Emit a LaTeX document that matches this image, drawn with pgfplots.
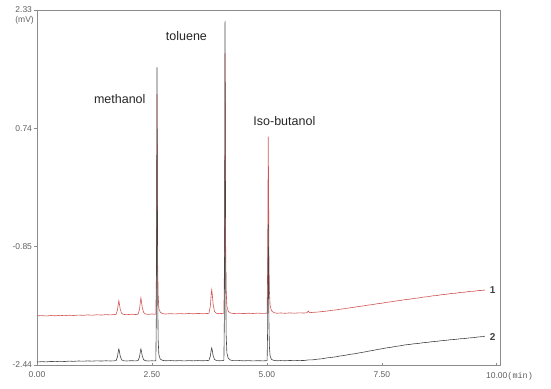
\documentclass[border=0pt]{standalone}
\usepackage{pgfplots}
\pgfplotsset{compat=1.18}
\usepackage{fontspec}
\setmainfont{Liberation Sans}
\newfontfamily\monofont{Liberation Mono}
\definecolor{trB}{HTML}{454545}
\definecolor{trR}{HTML}{D25555}
\definecolor{frame}{HTML}{8C8C8C}
\definecolor{lbl}{HTML}{606060}
\begin{document}
\begin{tikzpicture}
\begin{axis}[
  name=ax,
  scale only axis, width=463pt, height=355pt,
  xmin=0, xmax=10.07, ymin=-2.44, ymax=2.33,
  axis line style={frame, line width=0.8pt},
  xtick={0,2.5,5,7.5,10},
  xticklabels={0.00,2.50,5.00,7.50,{10.00\rlap{\monofont\fontsize{8.5}{10}\selectfont (min)}}},
  ytick={-2.44,-0.85,0.74,2.33},
  yticklabels={-2.44,-0.85,0.74,2.33},
  tick align=outside, major tick length=2.5pt,
  xtick pos=bottom, ytick pos=left,
  major x tick style={yshift=2.5pt},
  tick style={frame, line width=0.6pt},
  ticklabel style={font=\fontsize{8.5}{10}\selectfont, text=lbl},
  xticklabel style={yshift=-1pt},
  yticklabel style={xshift=1pt},
  clip=false,
]
\addplot[trR, line width=0.6pt] coordinates {
(0.00,-1.780) (0.10,-1.776) (0.20,-1.781) (0.30,-1.775) (0.40,-1.779) (0.50,-1.773) (0.60,-1.777) (0.70,-1.771) (0.80,-1.775) (0.90,-1.769) (1.00,-1.773) (1.10,-1.767) (1.20,-1.771) (1.30,-1.765) (1.40,-1.769) (1.50,-1.763) (1.60,-1.767) (1.68,-1.762)
(1.72,-1.760) (1.75,-1.700) (1.77,-1.610) (1.78,-1.577) (1.79,-1.610) (1.81,-1.690) (1.84,-1.745) (1.88,-1.760) (1.95,-1.764) (2.05,-1.758) (2.15,-1.762)
(2.20,-1.757) (2.23,-1.690) (2.25,-1.580) (2.26,-1.537) (2.27,-1.580) (2.29,-1.670) (2.32,-1.735) (2.36,-1.755) (2.42,-1.760) (2.50,-1.754) (2.56,-1.758)
(2.585,-1.755) (2.595,-1.30) (2.603,-0.20) (2.61,1.20) (2.617,0.10) (2.625,-1.10) (2.635,-1.50) (2.65,-1.68) (2.68,-1.73) (2.73,-1.750) (2.80,-1.755)
(2.90,-1.750) (3.00,-1.754) (3.10,-1.749) (3.20,-1.753) (3.30,-1.748) (3.40,-1.752) (3.50,-1.747) (3.60,-1.751) (3.70,-1.748)
(3.74,-1.746) (3.77,-1.650) (3.79,-1.480) (3.80,-1.430) (3.81,-1.480) (3.83,-1.620) (3.86,-1.720) (3.90,-1.745) (3.96,-1.750) (4.03,-1.747)
(4.065,-1.745) (4.075,-1.20) (4.083,0.00) (4.09,1.75) (4.097,0.30) (4.105,-1.00) (4.115,-1.45) (4.13,-1.65) (4.16,-1.72) (4.21,-1.742) (4.28,-1.748)
(4.40,-1.745) (4.50,-1.749) (4.60,-1.744) (4.70,-1.748) (4.80,-1.743) (4.90,-1.747) (4.98,-1.745)
(5.005,-1.743) (5.015,-1.20) (5.023,-0.20) (5.03,0.63) (5.037,-0.10) (5.045,-1.00) (5.055,-1.45) (5.07,-1.64) (5.10,-1.71) (5.15,-1.735) (5.22,-1.745)
(5.30,-1.741) (5.40,-1.745) (5.50,-1.740) (5.60,-1.744) (5.70,-1.739) (5.80,-1.742) (5.87,-1.738) (5.90,-1.715) (5.93,-1.737) (6.00,-1.733) (6.10,-1.729) (6.20,-1.722) (6.30,-1.716) (6.40,-1.706) (6.50,-1.700) (6.60,-1.690) (6.70,-1.682) (6.80,-1.672) (6.90,-1.664) (7.00,-1.653) (7.10,-1.646) (7.20,-1.635) (7.30,-1.628) (7.40,-1.617) (7.50,-1.610) (7.60,-1.598) (7.70,-1.591) (7.80,-1.580) (7.90,-1.573) (8.00,-1.562) (8.10,-1.556) (8.20,-1.545) (8.30,-1.539) (8.40,-1.528) (8.50,-1.522) (8.60,-1.511) (8.70,-1.506) (8.80,-1.495) (8.90,-1.490) (9.00,-1.480) (9.10,-1.476) (9.20,-1.466) (9.30,-1.462) (9.40,-1.452) (9.50,-1.449) (9.60,-1.440) (9.70,-1.437) (9.74,-1.432)
};
\addplot[trB, line width=0.6pt] coordinates {
(0.00,-2.400) (0.10,-2.395) (0.20,-2.398) (0.30,-2.392) (0.40,-2.395) (0.50,-2.390) (0.60,-2.393) (0.70,-2.388) (0.80,-2.391) (0.90,-2.386) (1.00,-2.389) (1.10,-2.385) (1.20,-2.388) (1.30,-2.384) (1.40,-2.387) (1.50,-2.383) (1.60,-2.386) (1.68,-2.384)
(1.72,-2.380) (1.75,-2.330) (1.77,-2.250) (1.78,-2.225) (1.79,-2.250) (1.81,-2.320) (1.84,-2.370) (1.88,-2.383) (1.95,-2.386) (2.05,-2.382) (2.15,-2.385)
(2.20,-2.380) (2.23,-2.330) (2.25,-2.250) (2.26,-2.225) (2.27,-2.250) (2.29,-2.320) (2.32,-2.370) (2.36,-2.382) (2.42,-2.386) (2.50,-2.383) (2.56,-2.385)
(2.585,-2.380) (2.595,-1.80) (2.603,-0.30) (2.61,1.56) (2.617,0.20) (2.625,-1.50) (2.635,-2.10) (2.65,-2.30) (2.68,-2.36) (2.73,-2.378) (2.80,-2.383)
(2.90,-2.380) (3.00,-2.384) (3.10,-2.381) (3.20,-2.385) (3.30,-2.381) (3.40,-2.384) (3.50,-2.380) (3.60,-2.383) (3.70,-2.380)
(3.74,-2.378) (3.77,-2.320) (3.79,-2.235) (3.80,-2.210) (3.81,-2.235) (3.83,-2.310) (3.86,-2.365) (3.90,-2.380) (3.96,-2.383) (4.03,-2.381)
(4.065,-2.378) (4.075,-1.80) (4.083,-0.20) (4.09,2.18) (4.097,0.40) (4.105,-1.40) (4.115,-2.05) (4.13,-2.28) (4.16,-2.35) (4.21,-2.375) (4.28,-2.382)
(4.40,-2.380) (4.50,-2.384) (4.60,-2.381) (4.70,-2.385) (4.80,-2.382) (4.90,-2.384) (4.98,-2.383)
(5.005,-2.380) (5.015,-2.00) (5.023,-1.20) (5.03,-0.55) (5.037,-1.10) (5.045,-1.90) (5.055,-2.20) (5.07,-2.32) (5.10,-2.365) (5.15,-2.378) (5.22,-2.383)
(5.30,-2.380) (5.40,-2.383) (5.50,-2.379) (5.60,-2.382) (5.70,-2.378) (5.80,-2.380) (5.90,-2.372) (6.00,-2.370) (6.10,-2.362) (6.20,-2.356) (6.30,-2.345) (6.40,-2.338) (6.50,-2.330) (6.60,-2.318) (6.70,-2.310) (6.80,-2.297) (6.90,-2.290) (7.00,-2.278) (7.10,-2.268) (7.20,-2.255) (7.30,-2.245) (7.40,-2.232) (7.50,-2.222) (7.60,-2.210) (7.70,-2.202) (7.80,-2.190) (7.90,-2.182) (8.00,-2.170) (8.10,-2.164) (8.20,-2.155) (8.30,-2.150) (8.40,-2.140) (8.50,-2.135) (8.60,-2.126) (8.70,-2.122) (8.80,-2.113) (8.90,-2.108) (9.00,-2.100) (9.10,-2.096) (9.20,-2.088) (9.30,-2.084) (9.40,-2.076) (9.50,-2.072) (9.60,-2.063) (9.70,-2.058) (9.74,-2.052)
};
\node[font=\fontsize{12.5}{14}\selectfont, text=black!85] at (axis cs:1.80,1.13) {methanol};
\node[font=\fontsize{12.5}{14}\selectfont, text=black!85] at (axis cs:3.25,1.98) {toluene};
\node[font=\fontsize{12.5}{14}\selectfont, text=black!85] at (axis cs:5.38,0.835) {Iso-butanol};
\node[font=\bfseries\fontsize{10}{12}\selectfont, text=black!75] at (axis cs:9.91,-1.43) {1};
\node[font=\bfseries\fontsize{10}{12}\selectfont, text=black!75] at (axis cs:9.91,-2.06) {2};
\node[font=\fontsize{8.5}{10}\selectfont, text=lbl, anchor=north east, inner sep=0pt] at ([xshift=-3pt,yshift=-6pt]rel axis cs:0,1) {(mV)};
\end{axis}
\pgfresetboundingbox
\path ([xshift=-37pt,yshift=-23pt]ax.south west) rectangle ++(551pt,388pt);
\end{tikzpicture}
\end{document}
